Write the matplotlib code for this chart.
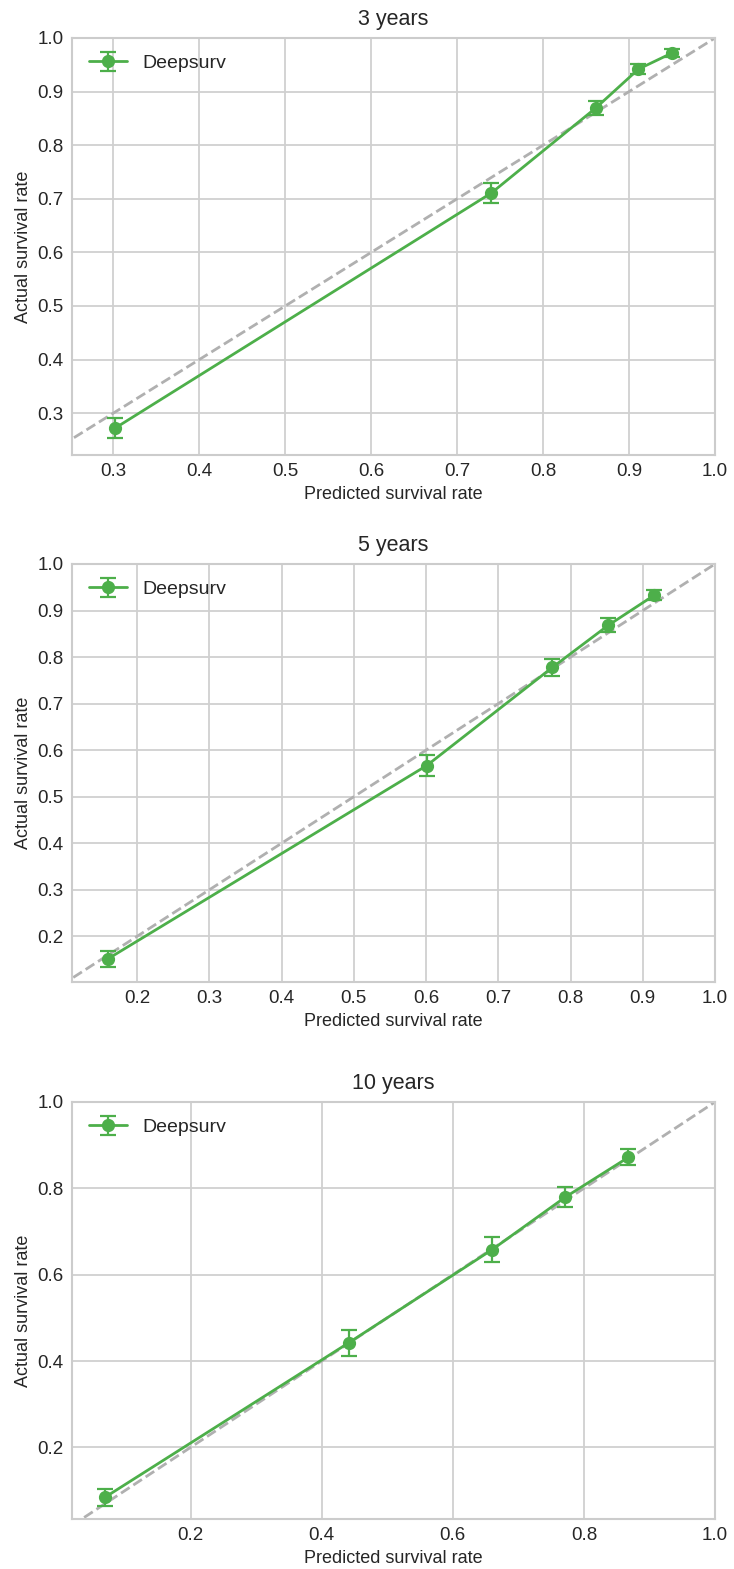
import numpy as np
import matplotlib
matplotlib.use("Agg")
import matplotlib.pyplot as plt

plt.style.use("seaborn-v0_8-whitegrid")
plt.rcParams["font.family"] = ["Liberation Sans", "DejaVu Sans"]

titles = ["3 years", "5 years", "10 years"]

# predicted vs actual survival, with error bar half-widths
pred_3 = [0.302, 0.740, 0.861, 0.911, 0.950]
act_3 = [0.272, 0.711, 0.869, 0.942, 0.972]
err_3 = [0.019, 0.019, 0.013, 0.009, 0.007]

pred_5 = [0.160, 0.601, 0.775, 0.852, 0.916]
act_5 = [0.152, 0.567, 0.778, 0.868, 0.933]
err_5 = [0.017, 0.022, 0.018, 0.015, 0.011]

pred_10 = [0.069, 0.441, 0.660, 0.771, 0.868]
act_10 = [0.084, 0.442, 0.658, 0.779, 0.872]
err_10 = [0.019, 0.030, 0.029, 0.023, 0.019]

preds = [pred_3, pred_5, pred_10]
acts = [act_3, act_5, act_10]
errs = [err_3, err_5, err_10]

green = "#4daf4a"

fig = plt.figure(figsize=(7.34, 15.69), dpi=100)
H = 1569.0
W = 734.0
# (left, top, right, bottom) in pixels
boxes = [(72, 38, 715, 455), (72, 564, 715, 982), (72, 1102, 715, 1519)]

for i in range(3):
    l, t, r, b = boxes[i]
    ax = fig.add_axes([l / W, 1 - b / H, (r - l) / W, (b - t) / H])
    x = np.array(preds[i])
    y = np.array(acts[i])
    xmin = x.min() - 0.05
    ymin = y.min() - 0.05
    ax.plot([0, 1], [0, 1], ls="--", color="#b0b0b0", lw=2, zorder=2)
    ax.errorbar(x, y, yerr=errs[i], fmt="-o", color=green, lw=2, ms=8.5,
                capsize=5.5, capthick=1.6, elinewidth=1.6, label="Deepsurv", zorder=3)
    ax.set_xlim(xmin, 1.0)
    ax.set_ylim(ymin, 1.0)
    ax.set_title(titles[i], fontsize=15.5, pad=9)
    ax.set_xlabel("Predicted survival rate", fontsize=13, labelpad=4)
    ax.set_ylabel("Actual survival rate", fontsize=13, labelpad=4)
    ax.tick_params(labelsize=13.5, colors="#262626", pad=6)
    ax.grid(True, color="#d0d0d0", lw=1.3)
    for s in ax.spines.values():
        s.set_visible(True)
        s.set_color("#cccccc")
        s.set_linewidth(1.5)
    ax.legend(loc="upper left", fontsize=14, frameon=False, borderpad=0.35,
              handlelength=2.0, handletextpad=0.75)

fig.savefig("out.png", dpi=100)
